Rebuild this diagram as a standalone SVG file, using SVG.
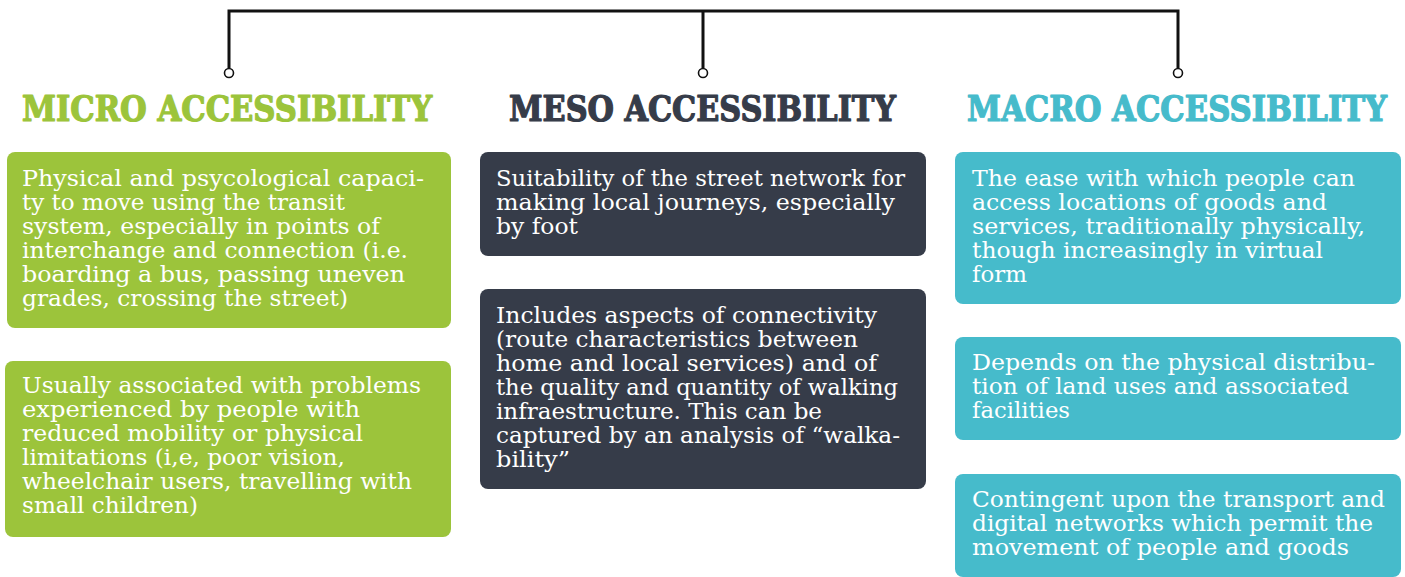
<svg xmlns="http://www.w3.org/2000/svg" width="1405" height="577" viewBox="0 0 1405 577">
  <style>
    .head { font-family: "DejaVu Serif", "Liberation Serif", serif; font-weight: bold; font-stretch: condensed; font-size: 30px; stroke-width: 1px; stroke-linejoin: round; }
    .body { font-family: "DejaVu Serif", "Liberation Serif", serif; font-size: 22px; fill: #ffffff; }
    .micro { fill: #9cc43b; }
    .meso { fill: #363c49; }
    .macro { fill: #46bbcb; }
    .head.micro { stroke: #9cc43b; }
    .head.meso { stroke: #363c49; }
    .head.macro { stroke: #46bbcb; }
    .wire { stroke: #111111; stroke-width: 3; fill: none; }
    .tip { stroke: #111111; stroke-width: 1.6; fill: #ffffff; }
  </style>

  <!-- bracket joining the three scales -->
  <g id="connectors">
    <path class="wire" d="M229 68 V11 H1178 V68 M703 11 V68"/>
    <circle class="tip" cx="229" cy="73" r="4.5"/>
    <circle class="tip" cx="703" cy="73" r="4.5"/>
    <circle class="tip" cx="1178" cy="73" r="4.5"/>
  </g>

  <!-- column headings (stretched taller than the base face) -->
  <g id="heading-micro" transform="translate(22 121) scale(1 1.2)">
    <text class="head micro" x="0" y="0" textLength="410" lengthAdjust="spacingAndGlyphs">MICRO ACCESSIBILITY</text>
  </g>
  <g id="heading-meso" transform="translate(509 121) scale(1 1.2)">
    <text class="head meso" x="0" y="0" textLength="387" lengthAdjust="spacingAndGlyphs">MESO ACCESSIBILITY</text>
  </g>
  <g id="heading-macro" transform="translate(967 121) scale(1 1.2)">
    <text class="head macro" x="0" y="0" textLength="420" lengthAdjust="spacingAndGlyphs">MACRO ACCESSIBILITY</text>
  </g>

  <!-- micro column -->
  <g id="micro-1">
    <rect class="micro" x="7" y="152" width="444" height="176" rx="8"/>
    <text class="body" x="22" y="186" textLength="402" lengthAdjust="spacingAndGlyphs">Physical and psycological capaci-</text>
    <text class="body" x="22" y="210" textLength="323" lengthAdjust="spacingAndGlyphs">ty to move using the transit</text>
    <text class="body" x="22" y="234" textLength="358" lengthAdjust="spacingAndGlyphs">system, especially in points of</text>
    <text class="body" x="22" y="258" textLength="386" lengthAdjust="spacingAndGlyphs">interchange and connection (i.e.</text>
    <text class="body" x="22" y="282" textLength="383" lengthAdjust="spacingAndGlyphs">boarding a bus, passing uneven</text>
    <text class="body" x="22" y="306" textLength="326" lengthAdjust="spacingAndGlyphs">grades, crossing the street)</text>
  </g>
  <g id="micro-2">
    <rect class="micro" x="5" y="361" width="446" height="176" rx="8"/>
    <text class="body" x="22" y="393" textLength="399" lengthAdjust="spacingAndGlyphs">Usually associated with problems</text>
    <text class="body" x="22" y="417" textLength="338" lengthAdjust="spacingAndGlyphs">experienced by people with</text>
    <text class="body" x="22" y="441" textLength="341" lengthAdjust="spacingAndGlyphs">reduced mobility or physical</text>
    <text class="body" x="22" y="465" textLength="323" lengthAdjust="spacingAndGlyphs">limitations (i,e, poor vision,</text>
    <text class="body" x="22" y="489" textLength="390" lengthAdjust="spacingAndGlyphs">wheelchair users, travelling with</text>
    <text class="body" x="22" y="513" textLength="176" lengthAdjust="spacingAndGlyphs">small children)</text>
  </g>

  <!-- meso column -->
  <g id="meso-1">
    <rect class="meso" x="480" y="152" width="446" height="104" rx="8"/>
    <text class="body" x="496" y="186" textLength="409" lengthAdjust="spacingAndGlyphs">Suitability of the street network for</text>
    <text class="body" x="496" y="210" textLength="399" lengthAdjust="spacingAndGlyphs">making local journeys, especially</text>
    <text class="body" x="496" y="234" textLength="82" lengthAdjust="spacingAndGlyphs">by foot</text>
  </g>
  <g id="meso-2">
    <rect class="meso" x="480" y="289" width="446" height="200" rx="8"/>
    <text class="body" x="496" y="323" textLength="381" lengthAdjust="spacingAndGlyphs">Includes aspects of connectivity</text>
    <text class="body" x="496" y="347" textLength="362" lengthAdjust="spacingAndGlyphs">(route characteristics between</text>
    <text class="body" x="496" y="371" textLength="381" lengthAdjust="spacingAndGlyphs">home and local services) and of</text>
    <text class="body" x="496" y="395" textLength="402" lengthAdjust="spacingAndGlyphs">the quality and quantity of walking</text>
    <text class="body" x="496" y="419" textLength="326" lengthAdjust="spacingAndGlyphs">infraestructure. This can be</text>
    <text class="body" x="496" y="443" textLength="404" lengthAdjust="spacingAndGlyphs">captured by an analysis of “walka-</text>
    <text class="body" x="496" y="467" textLength="74" lengthAdjust="spacingAndGlyphs">bility”</text>
  </g>

  <!-- macro column -->
  <g id="macro-1">
    <rect class="macro" x="955" y="152" width="446" height="152" rx="8"/>
    <text class="body" x="972" y="186" textLength="383" lengthAdjust="spacingAndGlyphs">The ease with which people can</text>
    <text class="body" x="972" y="210" textLength="355" lengthAdjust="spacingAndGlyphs">access locations of goods and</text>
    <text class="body" x="972" y="234" textLength="393" lengthAdjust="spacingAndGlyphs">services, traditionally physically,</text>
    <text class="body" x="972" y="258" textLength="351" lengthAdjust="spacingAndGlyphs">though increasingly in virtual</text>
    <text class="body" x="972" y="282" textLength="55" lengthAdjust="spacingAndGlyphs">form</text>
  </g>
  <g id="macro-2">
    <rect class="macro" x="955" y="337" width="446" height="103" rx="8"/>
    <text class="body" x="972" y="370" textLength="403" lengthAdjust="spacingAndGlyphs">Depends on the physical distribu-</text>
    <text class="body" x="972" y="394" textLength="377" lengthAdjust="spacingAndGlyphs">tion of land uses and associated</text>
    <text class="body" x="972" y="418" textLength="98" lengthAdjust="spacingAndGlyphs">facilities</text>
  </g>
  <g id="macro-3">
    <rect class="macro" x="955" y="474" width="446" height="103" rx="8"/>
    <text class="body" x="972" y="507" textLength="413" lengthAdjust="spacingAndGlyphs">Contingent upon the transport and</text>
    <text class="body" x="972" y="531" textLength="401" lengthAdjust="spacingAndGlyphs">digital networks which permit the</text>
    <text class="body" x="972" y="555" textLength="377" lengthAdjust="spacingAndGlyphs">movement of people and goods</text>
  </g>
</svg>
